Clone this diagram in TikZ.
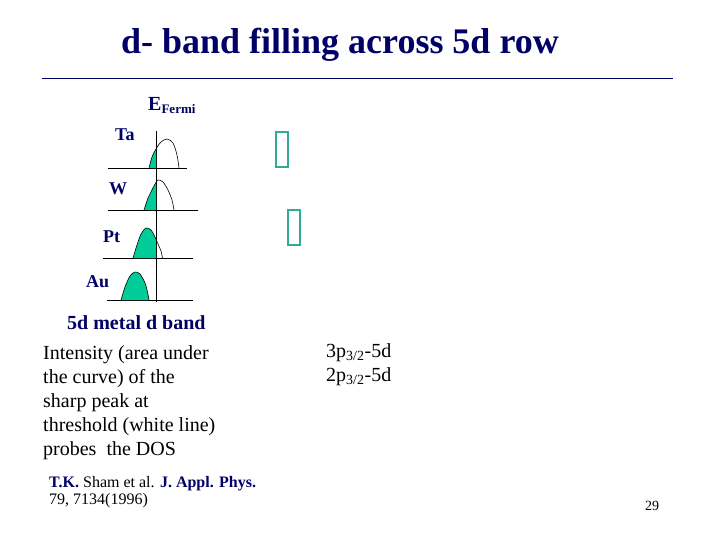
\documentclass[tikz,border=0pt]{standalone}
\usepackage{fontspec}
\setmainfont{Liberation Serif}
\usepackage{tikz}
\usetikzlibrary{positioning}
\definecolor{navytext}{RGB}{0,0,102}
\definecolor{bandfill}{RGB}{0,204,153}
\definecolor{boxcol}{RGB}{51,170,150}

\begin{document}
\begin{tikzpicture}[x=1pt,y=-1pt,
  label/.style={text=navytext, font=\fontsize{18}{20}\selectfont\bfseries, inner sep=0pt},
  bodytext/.style={font=\fontsize{20}{24}\selectfont, align=left, inner sep=0pt},
  axis/.style={line width=0.7pt},
  dos/.style={line width=0.6pt},
  glyphbox/.style={draw=boxcol, line width=1.6pt}]
\useasboundingbox (0,0) rectangle (720,540);

% title and rule
\node[text=navytext, font=\fontsize{36}{40}\selectfont\bfseries, anchor=base] (title) at (340,54) {d- band filling across 5d row};
\draw[navytext, line width=0.7pt] (42,78) -- (673,78);

% Fermi level and baselines
\node[label, anchor=base west, font=\fontsize{20}{22}\selectfont\bfseries] (efermi) at (148,111) {E\raisebox{-3pt}{\fontsize{13}{13}\selectfont Fermi}};
\coordinate (ftop) at (156,131);
\coordinate (fbot) at (156,302);
\draw[axis] (ftop) -- (fbot);
\draw[axis] (108,168) -- (187,168);
\draw[axis] (108,210) -- (198,210);
\draw[axis] (103,258) -- (193,258);
\draw[axis] (107,300) -- (193,300);

\node[label, anchor=base west] (ta) at (115,141) {Ta};
\node[label, anchor=base west] (w) at (109,195) {W};
\node[label, anchor=base west] (pt) at (103,243) {Pt};
\node[label, anchor=base west] (au) at (86,287) {Au};

% filled part of each band (left of E_F)
\begin{scope}
  \clip (90,120) rectangle (156,305);
  \fill[bandfill] plot[smooth] coordinates {(149,168) (152,157) (156,149) (161,142) (167,139) (173,143) (177,155) (179,168)} -- cycle;
  \fill[bandfill] plot[smooth] coordinates {(144,210) (148,198) (150,194) (154,186) (158,180) (163,182) (168,190) (172,200) (174,210)} -- cycle;
  \fill[bandfill] plot[smooth] coordinates {(133,258) (137,245) (141,234) (146,228) (151,230) (155,237) (158,244) (161,251) (162.5,258)} -- cycle;
  \fill[bandfill] plot[smooth] coordinates {(121,300) (125,287) (130,276) (135,272) (140,274) (145,283) (147.5,292) (149,300)} -- cycle;
\end{scope}
\draw[dos] plot[smooth] coordinates {(149,168) (152,157) (156,149) (161,142) (167,139) (173,143) (177,155) (179,168)};
\draw[dos] plot[smooth] coordinates {(144,210) (148,198) (150,194) (154,186) (158,180) (163,182) (168,190) (172,200) (174,210)};
\draw[dos] plot[smooth] coordinates {(133,258) (137,245) (141,234) (146,228) (151,230) (155,237) (158,244) (161,251) (162.5,258)};
\draw[dos] plot[smooth] coordinates {(121,300) (125,287) (130,276) (135,272) (140,274) (145,283) (147.5,292) (149,300)};

% empty glyph boxes
\draw[glyphbox] (276,132) rectangle (288,167);
\draw[glyphbox] (288,210) rectangle (300,245);

\node[label, font=\fontsize{20}{22}\selectfont\bfseries, anchor=base west] (dband) at (67,329) {5d metal d band};

% multi-line nodes: base = last line
\node[bodytext, anchor=base west] (note) at (43,455) {Intensity (area under\\the curve) of the\\sharp peak at\\threshold (white line)\\probes\ \ the DOS};
\node[bodytext, anchor=base west] (edges) at (326,381) {3p\textsubscript{3/2}-5d\\2p\textsubscript{3/2}-5d};

\node[font=\fontsize{16}{17}\selectfont, align=left, inner sep=0pt, anchor=base west] (ref) at (49,504)
  {\textcolor{navytext}{\bfseries T.K.} Sham et al. \textcolor{navytext}{\bfseries J. Appl. Phys.}\\79, 7134(1996)};
\node[font=\fontsize{14}{16}\selectfont, inner sep=0pt, anchor=base] (page) at (652,510) {29};
\end{tikzpicture}
\end{document}
